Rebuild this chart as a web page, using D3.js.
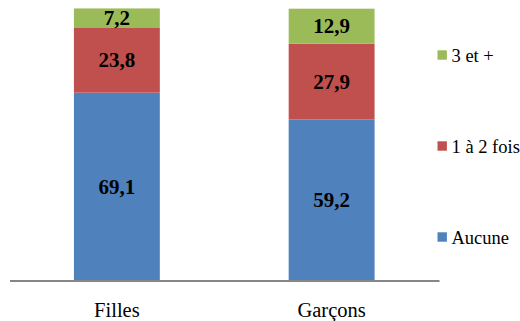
<!DOCTYPE html>
<html>
<head>
<meta charset="utf-8">
<script src="https://cdn.jsdelivr.net/npm/d3@7"></script>
<style>
  html, body { margin: 0; padding: 0; background: #fff; }
  svg { display: block; }
  svg text { font-family: "Liberation Serif", "Times New Roman", serif; }
</style>
</head>
<body>
<svg id="chart" width="520" height="321"></svg>
<script>
// Share of pupils (%) by number of occurrences, girls vs boys
const categories = ["Filles", "Garçons"];
const seriesNames = ["Aucune", "1 à 2 fois", "3 et +"];
const aucune = [69.1, 59.2];
const unADeux = [23.8, 27.9];
const troisEtPlus = [7.2, 12.9];
const seriesColors = ["#4F81BD", "#C0504D", "#9BBB59"];

const svg = d3.select("#chart");

const rows = categories.map((c, i) => ({
  cat: c,
  "Aucune": aucune[i],
  "1 à 2 fois": unADeux[i],
  "3 et +": troisEtPlus[i]
}));

const stack = d3.stack().keys(seriesNames);
const layers = stack(rows);

const x = d3.scaleBand()
  .domain(categories)
  .range([9.5, 439])
  .paddingInner(0.6)
  .paddingOuter(0.3);

const y = d3.scaleLinear()
  .domain([0, 100])
  .range([280.5, 8.7]);

const color = d3.scaleOrdinal().domain(seriesNames).range(seriesColors);

// stacked segments
const g = svg.append("g");
layers.forEach(layer => {
  g.append("g")
    .attr("fill", color(layer.key))
    .selectAll("rect")
    .data(layer)
    .join("rect")
    .attr("x", d => x(d.data.cat))
    .attr("width", x.bandwidth())
    .attr("y", d => y(d[1]))
    .attr("height", d => y(d[0]) - y(d[1]));
});

// value labels centred in each segment
layers.forEach(layer => {
  g.append("g")
    .selectAll("text")
    .data(layer)
    .join("text")
    .attr("x", d => x(d.data.cat) + x.bandwidth() / 2)
    .attr("y", d => (y(d[0]) + y(d[1])) / 2 + 7)
    .attr("text-anchor", "middle")
    .style("font-weight", "bold")
    .style("font-size", "21px")
    .attr("fill", "#000")
    .text(d => d3.format(".1f")(d[1] - d[0]).replace(".", ","));
});

// category axis
const xAxis = svg.append("g")
  .attr("transform", "translate(0,280.5)")
  .call(d3.axisBottom(x).tickSize(0).tickPadding(0));
xAxis.select(".domain")
  .attr("stroke", "#868686")
  .attr("stroke-width", 2.2);
xAxis.selectAll(".tick text")
  .style("font-family", "'Liberation Serif', serif")
  .style("font-size", "20.5px")
  .attr("fill", "#000")
  .attr("dy", null)
  .attr("y", 36.5);

// legend, top to bottom in reverse stacking order
const legendY = d3.scalePoint()
  .domain(seriesNames.slice().reverse())
  .range([55, 237]);

const legend = svg.append("g")
  .selectAll("g")
  .data(seriesNames)
  .join("g")
  .attr("transform", d => `translate(437.5,${legendY(d)})`);

legend.append("rect")
  .attr("x", 0)
  .attr("y", -4.7)
  .attr("width", 9.4)
  .attr("height", 9.4)
  .attr("fill", d => color(d));

legend.append("text")
  .attr("x", 14)
  .attr("y", 6.5)
  .style("font-size", "18.5px")
  .attr("fill", "#000")
  .text(d => d);
</script>
</body>
</html>
